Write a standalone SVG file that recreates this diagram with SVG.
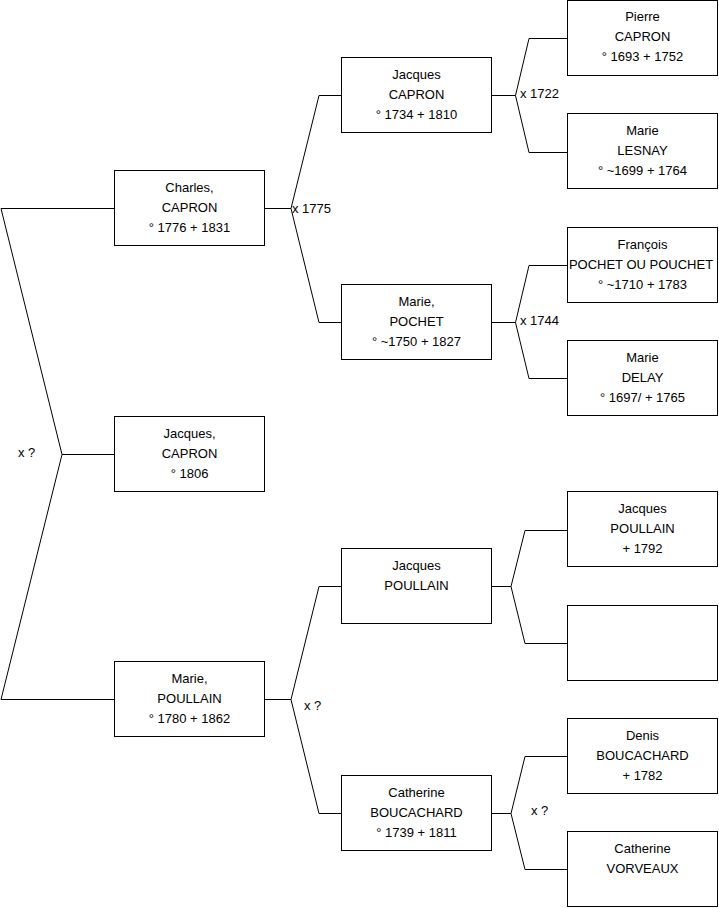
<svg xmlns="http://www.w3.org/2000/svg" width="719" height="908" viewBox="0 0 719 908">
<style>
.box{fill:#fff;stroke:#000;stroke-width:1}
.t{font-family:"Liberation Sans",Arial,sans-serif;font-size:13px;fill:#000;text-anchor:middle}
.lbl{font-family:"Liberation Sans",Arial,sans-serif;font-size:13px;fill:#000}
.c{fill:none;stroke:#000;stroke-width:1}
</style>
<rect width="719" height="908" fill="#fff"/>
<g id="connectors">
<path class="c" d="M114 208.5 H1 L62 454.5 L1 699.5 H114 M62 454.5 H114"/>
<path class="c" d="M341 95.5 H319 L291 208.5 L319 322.5 H341 M265 208.5 H291"/>
<path class="c" d="M567 38.5 H529 L515.5 95.5 L529 152.5 H567 M492 95.5 H515.5"/>
<path class="c" d="M567 265.5 H529 L515.5 322.5 L529 378.5 H567 M492 322.5 H515.5"/>
<path class="c" d="M341 586.5 H319 L291 699.5 L319 813.5 H341 M265 699.5 H291"/>
<path class="c" d="M567 530.5 H525 L511 586.5 L525 643.5 H567 M492 586.5 H511"/>
<path class="c" d="M567 756.5 H525 L511 813.5 L525 869.5 H567 M492 813.5 H511"/>
<text class="lbl" x="18" y="457">x ?</text>
<text class="lbl" x="292" y="212.5">x 1775</text>
<text class="lbl" x="520" y="98">x 1722</text>
<text class="lbl" x="520" y="325">x 1744</text>
<text class="lbl" x="304" y="710">x ?</text>
<text class="lbl" x="531" y="815">x ?</text>
</g>
<g id="charles">
<rect class="box" x="114.5" y="170.5" width="150" height="75"/>
<text class="t" x="189.5" y="191.5"><tspan x="189.5">Charles,</tspan><tspan x="189.5" dy="20">CAPRON</tspan><tspan x="189.5" dy="20">° 1776 + 1831</tspan></text>
</g>
<g id="jacques-child">
<rect class="box" x="114.5" y="416.5" width="150" height="75"/>
<text class="t" x="189.5" y="437.5"><tspan x="189.5">Jacques,</tspan><tspan x="189.5" dy="20">CAPRON</tspan><tspan x="189.5" dy="20">° 1806</tspan></text>
</g>
<g id="marie-poullain">
<rect class="box" x="114.5" y="661.5" width="150" height="75"/>
<text class="t" x="189.5" y="682.5"><tspan x="189.5">Marie,</tspan><tspan x="189.5" dy="20">POULLAIN</tspan><tspan x="189.5" dy="20">° 1780 + 1862</tspan></text>
</g>
<g id="jacques-capron">
<rect class="box" x="341.5" y="57.5" width="150" height="75"/>
<text class="t" x="416.5" y="78.5"><tspan x="416.5">Jacques</tspan><tspan x="416.5" dy="20">CAPRON</tspan><tspan x="416.5" dy="20">° 1734 + 1810</tspan></text>
</g>
<g id="marie-pochet">
<rect class="box" x="341.5" y="284.5" width="150" height="75"/>
<text class="t" x="416.5" y="305.5"><tspan x="416.5">Marie,</tspan><tspan x="416.5" dy="20">POCHET</tspan><tspan x="416.5" dy="20">° ~1750 + 1827</tspan></text>
</g>
<g id="jacques-poullain">
<rect class="box" x="341.5" y="548.5" width="150" height="75"/>
<text class="t" x="416.5" y="569.5"><tspan x="416.5">Jacques</tspan><tspan x="416.5" dy="20">POULLAIN</tspan></text>
</g>
<g id="catherine-boucachard">
<rect class="box" x="341.5" y="775.5" width="150" height="75"/>
<text class="t" x="416.5" y="796.5"><tspan x="416.5">Catherine</tspan><tspan x="416.5" dy="20">BOUCACHARD</tspan><tspan x="416.5" dy="20">° 1739 + 1811</tspan></text>
</g>
<g id="pierre-capron">
<rect class="box" x="567.5" y="0.5" width="150" height="75"/>
<text class="t" x="642.5" y="21"><tspan x="642.5">Pierre</tspan><tspan x="642.5" dy="20">CAPRON</tspan><tspan x="642.5" dy="20">° 1693 + 1752</tspan></text>
</g>
<g id="marie-lesnay">
<rect class="box" x="567.5" y="113.5" width="150" height="75"/>
<text class="t" x="642.5" y="134.5"><tspan x="642.5">Marie</tspan><tspan x="642.5" dy="20">LESNAY</tspan><tspan x="642.5" dy="20">° ~1699 + 1764</tspan></text>
</g>
<g id="francois-pochet">
<rect class="box" x="567.5" y="227.5" width="150" height="75"/>
<text class="t" x="641" y="248.5"><tspan x="642.5">François</tspan><tspan x="641" dy="20">POCHET OU POUCHET</tspan><tspan x="642.5" dy="20">° ~1710 + 1783</tspan></text>
</g>
<g id="marie-delay">
<rect class="box" x="567.5" y="340.5" width="150" height="75"/>
<text class="t" x="642.5" y="361.5"><tspan x="642.5">Marie</tspan><tspan x="642.5" dy="20">DELAY</tspan><tspan x="642.5" dy="20">° 1697/ + 1765</tspan></text>
</g>
<g id="jacques-poullain-sr">
<rect class="box" x="567.5" y="491.5" width="150" height="75"/>
<text class="t" x="642.5" y="512.5"><tspan x="642.5">Jacques</tspan><tspan x="642.5" dy="20">POULLAIN</tspan><tspan x="642.5" dy="20">+ 1792</tspan></text>
</g>
<g id="unknown">
<rect class="box" x="567.5" y="605.5" width="150" height="75"/>
</g>
<g id="denis-boucachard">
<rect class="box" x="567.5" y="718.5" width="150" height="75"/>
<text class="t" x="642.5" y="739.5"><tspan x="642.5">Denis</tspan><tspan x="642.5" dy="20">BOUCACHARD</tspan><tspan x="642.5" dy="20">+ 1782</tspan></text>
</g>
<g id="catherine-vorveaux">
<rect class="box" x="567.5" y="831.5" width="150" height="75"/>
<text class="t" x="642.5" y="852.5"><tspan x="642.5">Catherine</tspan><tspan x="642.5" dy="20">VORVEAUX</tspan></text>
</g>
</svg>
